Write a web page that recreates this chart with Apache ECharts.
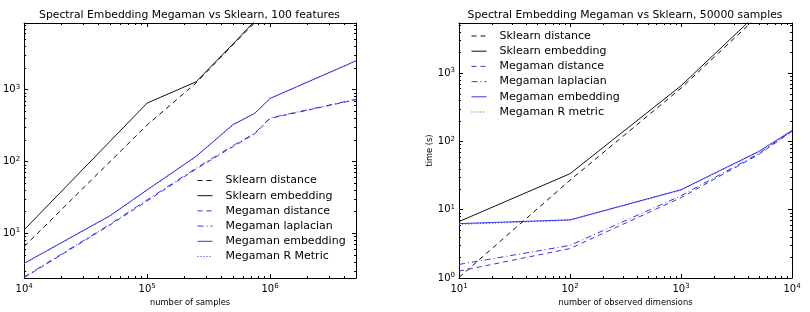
<!DOCTYPE html>
<html>
<head>
<meta charset="utf-8">
<script src="https://cdn.jsdelivr.net/npm/echarts@6/dist/echarts.min.js"></script>
<style>
html, body { margin: 0; padding: 0; background: #fff; }
#chart { width: 810px; height: 312px; }
</style>
</head>
<body>
<div id="chart"></div>
<script>
// left panel: 100 features, time vs number of samples
const samplesSklearn = [1e4, 1e5, 2.5e5, 5e5, 1e6]
const sklDistanceL = [6.5, 320, 1230, 4200, 14000]
const sklEmbeddingL = [11.1, 645, 1275, 4300, 15000]
const samplesMegaman = [1e4, 5e4, 1e5, 2.5e5, 5e5, 7.5e5, 1e6, 5e6]
const megDistanceL = [2.4, 13, 28, 78, 160, 240, 395, 720]
const megLaplacianL = [2.45, 13.3, 29, 80, 165, 245, 400, 730]
const megEmbeddingL = [3.8, 17.5, 40, 117, 324, 464, 750, 2500]
const megRmetricL = [3.75, 17.3, 39.5, 116, 320, 460, 745, 2480]

// right panel: 50000 samples, time vs number of observed dimensions
const dimsSklearn = [10, 100, 1000, 10000]
const sklDistanceR = [1.02, 27, 600, 20000]
const sklEmbeddingR = [6.7, 33.6, 650, 22500]
const dimsMegaman = [10, 100, 1000, 5000, 10000]
const megDistanceR = [1.26, 2.7, 15, 64, 140]
const megLaplacianR = [1.58, 3.0, 16, 66, 142]
const megEmbeddingR = [6.25, 7.1, 19.6, 71, 144]
const megRmetricR = [6.1, 7.0, 19.3, 70, 143]

const leftNames = ['Sklearn distance', 'Sklearn embedding', 'Megaman distance', 'Megaman laplacian', 'Megaman embedding', 'Megaman R Metric']
const rightNames = ['Sklearn distance', 'Sklearn embedding', 'Megaman distance', 'Megaman laplacian', 'Megaman embedding', 'Megaman R metric']

const leftXRange = [1e4, 5e6]
const leftYRange = [2.37, 8400]
const rightXRange = [10, 1e4]
const rightYRange = [1, 5400]

const FONT = 'DejaVu Sans'
const BLACK = '#111'
const BLUE = '#3535ea'

const chart = echarts.init(document.getElementById('chart'))

function powLabel (v) {
  const e = Math.log10(v)
  if (Math.abs(e - Math.round(e)) > 1e-6) return ''
  return '{b|10}{s|' + Math.round(e) + '}'
}

const labelRich = {
  b: { fontFamily: FONT, fontSize: 10, color: '#000' },
  s: { fontFamily: FONT, fontSize: 7, color: '#000', verticalAlign: 'top', padding: [0, 0, 5, 0] }
}

function baseAxis (grid, range) {
  return {
    type: 'log',
    logBase: 10,
    gridIndex: grid,
    min: range[0],
    max: range[1],
    splitLine: { show: false },
    axisLine: { show: true, onZero: false, lineStyle: { color: '#000', width: 1 } },
    axisTick: { show: true, inside: true, length: 4, lineStyle: { color: '#000' } }
  }
}

function xAxes (grid, range, name) {
  return [
    Object.assign(baseAxis(grid, range), {
      position: 'bottom',
      name: name,
      nameLocation: 'middle',
      nameGap: 21,
      nameTextStyle: { fontFamily: FONT, fontSize: 8.3, color: '#000' },
      axisLabel: { formatter: powLabel, margin: 5, rich: labelRich }
    }),
    Object.assign(baseAxis(grid, range), { position: 'top', axisLabel: { show: false } })
  ]
}

function yAxes (grid, range, name) {
  return [
    Object.assign(baseAxis(grid, range), {
      position: 'left',
      name: name,
      nameLocation: 'middle',
      nameRotate: 90,
      nameGap: 25,
      nameTextStyle: { fontFamily: FONT, fontSize: 8.3, color: '#000' },
      axisLabel: { formatter: powLabel, margin: 4, rich: labelRich }
    }),
    Object.assign(baseAxis(grid, range), { position: 'right', axisLabel: { show: false } })
  ]
}

function minorValues (range) {
  const out = []
  for (let e = Math.floor(Math.log10(range[0])); e <= Math.ceil(Math.log10(range[1])); e++) {
    for (let k = 2; k <= 9; k++) {
      const v = k * Math.pow(10, e)
      if (v > range[0] && v < range[1]) out.push(v)
    }
  }
  return out
}

// minor ticks on all four sides, matplotlib style
function minorTicks (axisIdx, xr, yr) {
  const st = { stroke: '#000', lineWidth: 1 }
  return [
    {
      type: 'custom',
      name: 'minor-x',
      xAxisIndex: axisIdx,
      yAxisIndex: axisIdx,
      silent: true,
      clip: false,
      data: minorValues(xr).map(v => [v, yr[0]]),
      renderItem: (params, api) => {
        const cs = params.coordSys
        const x = Math.round(api.coord([api.value(0), api.value(1)])[0]) + 0.5
        return {
          type: 'group',
          children: [
            { type: 'line', shape: { x1: x, y1: cs.y + cs.height, x2: x, y2: cs.y + cs.height - 2 }, style: st },
            { type: 'line', shape: { x1: x, y1: cs.y, x2: x, y2: cs.y + 2 }, style: st }
          ]
        }
      }
    },
    {
      type: 'custom',
      name: 'minor-y',
      xAxisIndex: axisIdx,
      yAxisIndex: axisIdx,
      silent: true,
      clip: false,
      data: minorValues(yr).map(v => [xr[0], v]),
      renderItem: (params, api) => {
        const cs = params.coordSys
        const y = Math.round(api.coord([api.value(0), api.value(1)])[1]) + 0.5
        return {
          type: 'group',
          children: [
            { type: 'line', shape: { x1: cs.x, y1: y, x2: cs.x + 2, y2: y }, style: st },
            { type: 'line', shape: { x1: cs.x + cs.width, y1: y, x2: cs.x + cs.width - 2, y2: y }, style: st }
          ]
        }
      }
    }
  ]
}

function line (name, xs, ys, axisIdx, color, dash) {
  return {
    type: 'line',
    name: name,
    xAxisIndex: axisIdx,
    yAxisIndex: axisIdx,
    data: xs.map((x, i) => [x, ys[i]]),
    symbol: 'none',
    clip: true,
    lineStyle: { color: color, width: 1, type: dash },
    itemStyle: { color: color }
  }
}

const DASH = [5, 4]
const DASHDOT = [6, 3, 1, 3]
const DOT = [1, 2]

function legendFor (names, left, top) {
  return {
    data: names,
    orient: 'vertical',
    left: left,
    top: top,
    padding: 0,
    itemWidth: 15,
    itemHeight: 12,
    itemGap: 4.2,
    selectedMode: false,
    itemStyle: { opacity: 0 },
    lineStyle: { width: 1 },
    textStyle: { fontFamily: FONT, fontSize: 11, color: '#000', padding: [0, 0, 0, 8] }
  }
}

const titleStyle = { fontFamily: FONT, fontSize: 10.8, fontWeight: 'normal', color: '#000' }

const option = {
  animation: false,
  backgroundColor: '#fff',
  title: [
    {
      text: 'Spectral Embedding Megaman vs Sklearn, 100 features',
      left: 189.5, top: 9.5, padding: 0, textAlign: 'center', textStyle: titleStyle
    },
    {
      text: 'Spectral Embedding Megaman vs Sklearn, 50000 samples',
      left: 625, top: 9.5, padding: 0, textAlign: 'center', textStyle: titleStyle
    }
  ],
  legend: [
    legendFor(leftNames, 197, 175),
    legendFor(rightNames, 471, 30.5)
  ],
  grid: [
    { left: 23, top: 23, width: 333, height: 255 },
    { left: 459, top: 23, width: 333, height: 255 }
  ],
  xAxis: [].concat(
    xAxes(0, leftXRange, 'number of samples'),
    xAxes(1, rightXRange, 'number of observed dimensions')
  ),
  yAxis: [].concat(
    yAxes(0, leftYRange, ''),
    yAxes(1, rightYRange, 'time (s)')
  ),
  series: [].concat(
    minorTicks(0, leftXRange, leftYRange),
    minorTicks(2, rightXRange, rightYRange),
    [
      line('Megaman R Metric', samplesMegaman, megRmetricL, 0, BLUE, DOT),
      line('Megaman laplacian', samplesMegaman, megLaplacianL, 0, BLUE, DASHDOT),
      line('Megaman distance', samplesMegaman, megDistanceL, 0, BLUE, DASH),
      line('Megaman embedding', samplesMegaman, megEmbeddingL, 0, BLUE, 'solid'),
      line('Sklearn distance', samplesSklearn, sklDistanceL, 0, BLACK, DASH),
      line('Sklearn embedding', samplesSklearn, sklEmbeddingL, 0, BLACK, 'solid'),

      line('Megaman R metric', dimsMegaman, megRmetricR, 2, BLUE, DOT),
      line('Megaman laplacian', dimsMegaman, megLaplacianR, 2, BLUE, DASHDOT),
      line('Megaman distance', dimsMegaman, megDistanceR, 2, BLUE, DASH),
      line('Megaman embedding', dimsMegaman, megEmbeddingR, 2, BLUE, 'solid'),
      line('Sklearn distance', dimsSklearn, sklDistanceR, 2, BLACK, DASH),
      line('Sklearn embedding', dimsSklearn, sklEmbeddingR, 2, BLACK, 'solid')
    ]
  )
}

chart.setOption(option)
</script>
</body>
</html>
